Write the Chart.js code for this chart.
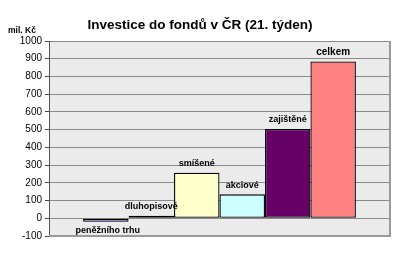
<!DOCTYPE html>
<html>
<head>
<meta charset="utf-8">
<script src="https://cdn.jsdelivr.net/npm/chart.js@4.4.0/dist/chart.umd.min.js"></script>
<style>
html,body{margin:0;padding:0;background:#fff;}
#wrap{width:400px;height:268px;position:relative;}
</style>
</head>
<body>
<div id="wrap"><canvas id="c" width="400" height="268"></canvas></div>
<script>
const titleText = "Investice do fondů v ČR (21. týden)";
const unitLabel = "mil. Kč";
const categories = ["21. týden"];
const seriesNames = ["peněžního trhu", "dluhopisové", "smíšené", "akciové", "zajištěné", "celkem"];
const seriesValues = [-20, 14, 257, 135, 504, 885];
const seriesColors = ["#9999FF", "#993366", "#FFFFCC", "#CCFFFF", "#660066", "#FF8080"];
const yMin = -100, yMax = 1000, yStep = 100;

const datasets = seriesNames.map((n, i) => ({
  label: n,
  data: [seriesValues[i]],
  backgroundColor: seriesColors[i],
  borderColor: "#000",
  borderWidth: 1.3,
  borderSkipped: false,
  categoryPercentage: 0.8,
  barPercentage: 1.0
}));

const FONT = "'Liberation Sans', Arial, sans-serif";

const decor = {
  id: "decor",
  beforeDraw(chart) {
    const {ctx, chartArea: a} = chart;
    ctx.save();
    ctx.fillStyle = "#EBEBEB";
    ctx.fillRect(a.left, a.top, a.right - a.left, a.bottom - a.top);
    ctx.restore();
  },
  afterDraw(chart) {
    const {ctx, chartArea: a} = chart;
    ctx.save();
    ctx.strokeStyle = "#9a9a9a";
    ctx.lineWidth = 2;
    ctx.beginPath();
    ctx.moveTo(a.left, a.bottom);
    ctx.lineTo(a.right, a.bottom);
    ctx.lineTo(a.right, a.top);
    ctx.stroke();
    ctx.fillStyle = "#000";
    ctx.font = "bold 13.5px " + FONT;
    ctx.textAlign = "center";
    ctx.textBaseline = "middle";
    ctx.fillText(titleText, 200, 25);
    ctx.font = "bold 8.5px " + FONT;
    ctx.textAlign = "left";
    ctx.fillText(unitLabel, 8, 31);
    ctx.textAlign = "center";
    chart.data.datasets.forEach((ds, i) => {
      const el = chart.getDatasetMeta(i).data[0];
      const v = ds.data[0];
      ctx.font = (i === seriesNames.length - 1 ? "bold 10px " : "bold 9px ") + FONT;
      if (v < 0) {
        ctx.fillText(ds.label, el.x + 2, el.base + 12);
      } else {
        ctx.fillText(ds.label, el.x, el.y - 9);
      }
    });
    ctx.restore();
  }
};

new Chart(document.getElementById("c"), {
  type: "bar",
  data: { labels: categories, datasets },
  options: {
    responsive: false,
    animation: false,
    events: [],
    layout: { padding: { top: 41, right: 10, bottom: 32, left: 0 } },
    plugins: { legend: { display: false }, title: { display: false }, tooltip: { enabled: false } },
    scales: {
      x: { display: false },
      y: {
        min: yMin, max: yMax,
        afterFit(scale) { scale.width = 49; },
        ticks: { stepSize: yStep, color: "#000", padding: 3, font: { family: FONT, size: 10 }, callback: v => String(v) },
        grid: { color: "#8a8a8a", lineWidth: 1, tickLength: 4, tickColor: "#444" },
        border: { color: "#555", width: 1 }
      }
    }
  },
  plugins: [decor]
});
</script>
</body>
</html>
